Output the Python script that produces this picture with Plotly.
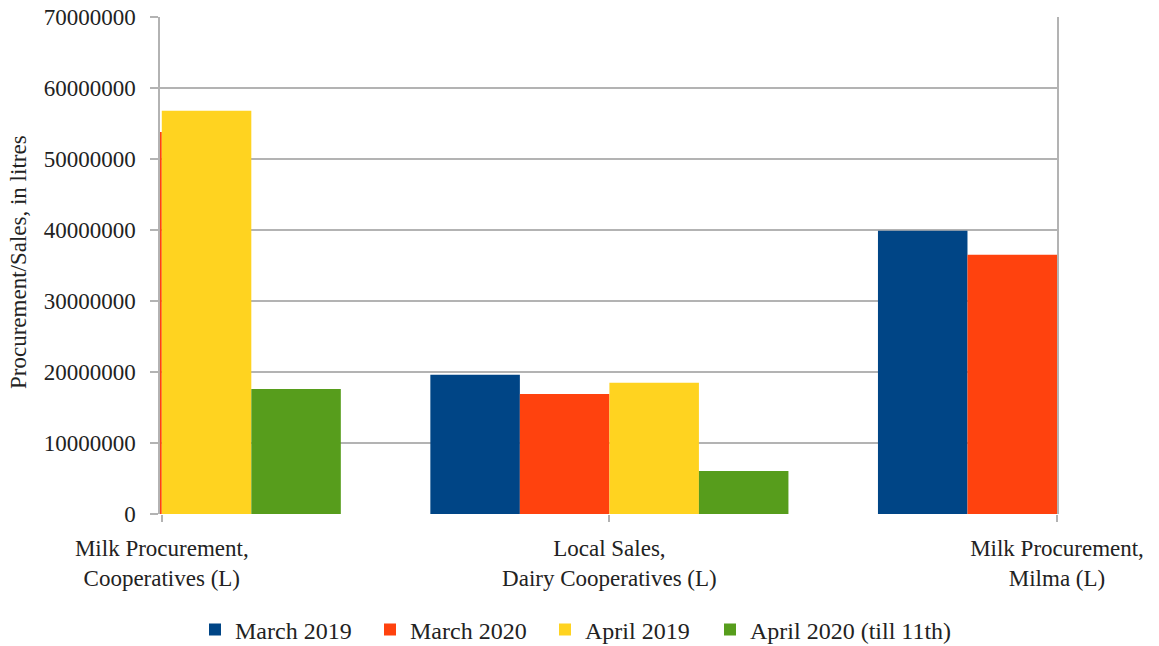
import plotly.graph_objects as go

# Category positions on the x axis and their two-line labels
categories = [0, 1, 2]
category_labels = [
    "Milk Procurement,<br>Cooperatives (L)",
    "Local Sales,<br>Dairy Cooperatives (L)",
    "Milk Procurement,<br>Milma (L)",
]

# Values in litres (None where no value is shown)
march_2019 = [None, 19600000, 39900000]
march_2020 = [53800000, 16900000, 36500000]
april_2019 = [56800000, 18500000, None]
april_2020 = [17600000, 6050000, None]

series_names = ["March 2019", "March 2020", "April 2019", "April 2020 (till 11th)"]
series_colors = ["#004586", "#ff420e", "#ffd320", "#579d1c"]
series_values = [march_2019, march_2020, april_2019, april_2020]
# first three entries share one evenly spaced legend row, the long last entry sits in its own
series_legends = ["legend", "legend", "legend", "legend2"]

y_ticks = list(range(0, 70000001, 10000000))
y_title = "Procurement/Sales, in litres"

FONT = "Liberation Serif"
TEXT = "#222222"
GRID = "#b3b3b3"
W, H = 1159, 646
ML, MR, MT, MB = 160, 102, 17, 132
PW, PH = W - ML - MR, H - MT - MB

fig = go.Figure()
for name, color, vals, lg in zip(series_names, series_colors, series_values, series_legends):
    fig.add_trace(go.Bar(
        x=categories, y=vals, name=name, legend=lg,
        marker=dict(color=color, line=dict(width=0)),
    ))

legend_common = dict(
    orientation="h", xref="container", xanchor="left",
    y=-0.233, yanchor="middle",
    font=dict(family=FONT, size=24, color=TEXT),
    itemwidth=30, traceorder="normal", bgcolor="rgba(0,0,0,0)",
)

# rotated y-axis title, placed in the left margin
fig.add_annotation(
    text=y_title, textangle=-90, showarrow=False,
    xref="paper", yref="paper",
    x=(18 - ML) / PW, y=(H - MB - 262) / PH,
    xanchor="center", yanchor="middle",
    font=dict(family=FONT, size=23, color=TEXT),
)

fig.update_layout(
    width=W, height=H,
    margin=dict(l=ML, r=MR, t=MT, b=MB, autoexpand=False),
    paper_bgcolor="white", plot_bgcolor="white",
    barmode="group", bargap=0.2, bargroupgap=0,
    font=dict(family=FONT, size=23, color=TEXT),
    showlegend=True,
    legend=dict(legend_common, x=195 / W, entrywidth=130, entrywidthmode="pixels"),
    legend2=dict(legend_common, x=710 / W),
    xaxis=dict(
        range=[-0.004, 2.0], tickmode="array", tickvals=categories,
        ticktext=category_labels, ticks="outside", ticklen=7,
        tickcolor=GRID, tickwidth=1.5, showgrid=False, zeroline=False,
        showline=False, automargin=False, ticklabelstandoff=6,
        tickfont=dict(family=FONT, size=23, color=TEXT),
    ),
    yaxis=dict(
        range=[0, 70000000], tickmode="array", tickvals=y_ticks,
        tickformat="d", ticks="outside", ticklen=8, tickcolor=GRID, tickwidth=1.5,
        showgrid=True, gridcolor=GRID, gridwidth=1.5, zeroline=False,
        showline=True, linecolor=GRID, linewidth=1.5, mirror=True,
        automargin=False, ticklabelstandoff=10,
        tickfont=dict(family=FONT, size=23, color=TEXT),
    ),
)

fig.write_html("out.html")
